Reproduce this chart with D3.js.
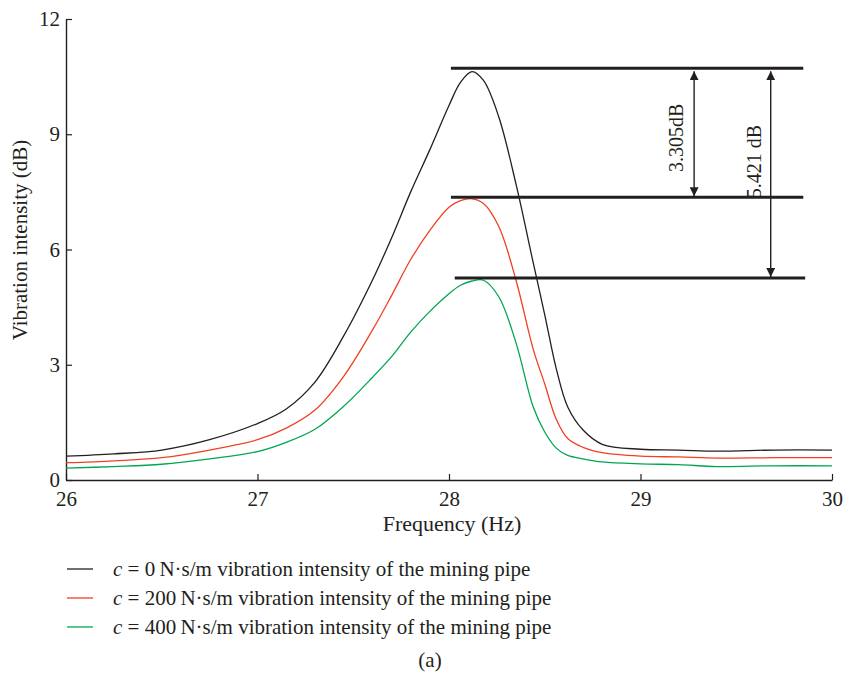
<!DOCTYPE html>
<html>
<head>
<meta charset="utf-8">
<script src="https://cdn.jsdelivr.net/npm/d3@7"></script>
<style>
  body { margin: 0; background: #fff; }
  svg, svg text { font-family: 'Liberation Serif', 'Times New Roman', serif; }
</style>
</head>
<body>
<svg id="chart" width="844" height="675"></svg>
<script>
// frequency grid (Hz)
const freq = [26.0, 26.25, 26.5, 26.75, 27.0, 27.15, 27.3, 27.45, 27.6, 27.7, 27.8, 27.9, 28.0, 28.06,
  28.12, 28.18, 28.26, 28.35, 28.44, 28.5, 28.56, 28.62, 28.7, 28.8, 29.0, 29.2, 29.4, 29.7, 30.0];

// vibration intensity (dB) per damping coefficient
const c0 = [0.62, 0.68, 0.78, 1.05, 1.47, 1.85, 2.55, 3.75, 5.2, 6.3, 7.5, 8.6, 9.75, 10.35,
  10.63, 10.4, 9.45, 7.7, 5.65, 4.3, 2.9, 1.9, 1.3, 0.93, 0.8, 0.78, 0.75, 0.78, 0.78];
const c200 = [0.45, 0.5, 0.58, 0.78, 1.05, 1.35, 1.82, 2.7, 3.9, 4.8, 5.74, 6.5, 7.1, 7.27,
  7.32, 7.2, 6.6, 5.2, 3.4, 2.5, 1.58, 1.08, 0.85, 0.71, 0.62, 0.6, 0.57, 0.58, 0.58];
const c400 = [0.31, 0.35, 0.41, 0.55, 0.74, 0.98, 1.32, 1.92, 2.67, 3.21, 3.85, 4.39, 4.85, 5.07,
  5.18, 5.2, 4.77, 3.57, 1.9, 1.25, 0.83, 0.64, 0.55, 0.47, 0.42, 0.4, 0.35, 0.37, 0.37];

const seriesNames = [
  "0\u2009N\u00b7s/m vibration intensity of the mining pipe",
  "200\u2009N\u00b7s/m vibration intensity of the mining pipe",
  "400\u2009N\u00b7s/m vibration intensity of the mining pipe"
];
const seriesColors = ["#231f20", "#ef4123", "#00a651"];

const xTicks = [26, 27, 28, 29, 30];
const yTicks = [0, 3, 6, 9, 12];

// peak reference lines and the differences between them
const peakLevels = [10.72, 7.36, 5.26];
const peakSpan = [[28.01, 29.85], [28.01, 29.85], [28.03, 29.86]];
const diffArrows = [
  {f: 29.28, from: 10.72, to: 7.36, label: "3.305dB"},
  {f: 29.68, from: 10.72, to: 5.26, label: "5.421 dB"}
];

const margin = {top: 19, right: 12, bottom: 195, left: 66};
const svg = d3.select("#chart");
const width = 844 - margin.left - margin.right;
const height = 675 - margin.top - margin.bottom;
const ink = "#231f20";
const serif = "'Liberation Serif', 'Times New Roman', serif";

const x = d3.scaleLinear().domain([26, 30]).range([margin.left, margin.left + width]);
const y = d3.scaleLinear().domain([0, 12]).range([margin.top + height, margin.top]);

// axes
const xAxis = svg.append("g")
    .attr("transform", `translate(0,${y(0)})`)
    .call(d3.axisBottom(x).tickValues(xTicks).tickSizeInner(-6).tickSizeOuter(0).tickPadding(14).tickFormat(d3.format("d")));
const yAxis = svg.append("g")
    .attr("transform", `translate(${x(26)},0)`)
    .call(d3.axisLeft(y).tickValues(yTicks).tickSizeInner(-6).tickSizeOuter(0).tickPadding(8).tickFormat(d3.format("d")));

[xAxis, yAxis].forEach(g => {
  g.attr("font-family", serif);
  g.select(".domain").attr("stroke", ink).attr("stroke-width", 1.4);
  g.selectAll(".tick line").attr("stroke", ink).attr("stroke-width", 1.2);
  g.selectAll(".tick text").attr("fill", ink).style("font-size", "21px");
});
xAxis.selectAll(".tick text").attr("dy", "0.35em").attr("y", 19);
yAxis.selectAll(".tick text").attr("x", -6);

svg.append("text")
    .attr("x", 452).attr("y", 531)
    .attr("text-anchor", "middle")
    .attr("fill", ink)
    .style("font-size", "22px")
    .text("Frequency (Hz)");

svg.append("text")
    .attr("transform", "translate(27,240) rotate(-90)")
    .attr("text-anchor", "middle")
    .attr("fill", ink)
    .style("font-size", "21px")
    .text("Vibration intensity (dB)");

// curves
const line = d3.line()
    .x((d, i) => x(freq[i]))
    .y(d => y(d))
    .curve(d3.curveCatmullRom.alpha(0.5));

[c0, c200, c400].forEach((vals, i) => {
  svg.append("path")
      .datum(vals)
      .attr("fill", "none")
      .attr("stroke", seriesColors[i])
      .attr("stroke-width", 1.3)
      .attr("d", line);
});

// peak level lines
svg.append("g").selectAll("line")
    .data(peakLevels)
    .enter().append("line")
    .attr("x1", (d, i) => x(peakSpan[i][0]))
    .attr("x2", (d, i) => x(peakSpan[i][1]))
    .attr("y1", d => y(d))
    .attr("y2", d => y(d))
    .attr("stroke", ink)
    .attr("stroke-width", 3);

// arrowheads
const defs = svg.append("defs");
defs.append("marker")
    .attr("id", "arrow")
    .attr("viewBox", "0 0 10 10")
    .attr("refX", 10).attr("refY", 5)
    .attr("markerWidth", 9).attr("markerHeight", 9)
    .attr("markerUnits", "userSpaceOnUse")
    .attr("orient", "auto-start-reverse")
    .append("path")
    .attr("d", "M0,0 L10,5 L0,10 Z")
    .attr("fill", ink);

const arrows = svg.append("g").selectAll("g")
    .data(diffArrows)
    .enter().append("g");

arrows.append("line")
    .attr("x1", d => x(d.f)).attr("x2", d => x(d.f))
    .attr("y1", d => y(d.from) + 3)
    .attr("y2", d => y(d.to) - 1)
    .attr("stroke", ink)
    .attr("stroke-width", 1.4)
    .attr("marker-start", "url(#arrow)")
    .attr("marker-end", "url(#arrow)");

arrows.append("text")
    .attr("transform", (d, i) => i === 0
        ? `translate(${x(d.f) - 11},${(y(d.from) + y(d.to)) / 2 + 5}) rotate(-90)`
        : `translate(${x(d.f) - 10},${y(7.36) + 1}) rotate(-90)`)
    .attr("text-anchor", (d, i) => i === 0 ? "middle" : "start")
    .attr("fill", ink)
    .style("font-size", "20px")
    .text(d => d.label);

// legend
const legend = svg.append("g").attr("transform", "translate(67,569)");
seriesNames.forEach((name, i) => {
  const row = legend.append("g").attr("transform", `translate(0,${i * 29})`);
  row.append("line")
      .attr("x1", 0).attr("x2", 26)
      .attr("stroke", seriesColors[i])
      .attr("stroke-width", 1.3);
  const t = row.append("text")
      .attr("x", 46).attr("dy", "0.35em")
      .attr("fill", ink)
      .style("font-size", "21px");
  t.append("tspan").style("font-style", "italic").text("c");
  t.append("tspan").text(" = " + name);
});

svg.append("text")
    .attr("x", 430).attr("y", 667)
    .attr("text-anchor", "middle")
    .attr("fill", ink)
    .style("font-size", "21px")
    .text("(a)");
</script>
</body>
</html>
